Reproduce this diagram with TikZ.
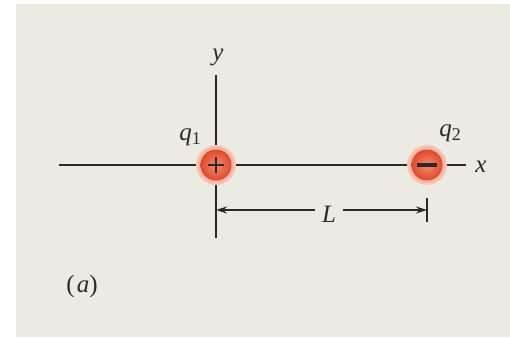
\documentclass[tikz,border=0pt]{standalone}
\usepackage{fontspec}
\setmainfont{Liberation Serif}
\usetikzlibrary{arrows.meta}
\definecolor{bg}{HTML}{ECEBE3}
\definecolor{halo}{HTML}{F4B4A0}
\definecolor{chin}{HTML}{F68A6C}
\definecolor{chout}{HTML}{DE4A2C}
\definecolor{ink}{HTML}{2A2A2A}
\tikzset{
  axis/.style={draw=ink, line width=1.4pt},
  lbl/.style={inner sep=0pt, font=\fontsize{25}{25}\selectfont\itshape, text=ink},
  dimline/.style={draw=ink, line width=1.2pt},
  charge/.style={circle, minimum size=31pt, inner sep=0pt, inner color=chin, outer color=chout},
}
\begin{document}
\begin{tikzpicture}[x=1pt,y=-1pt]
\useasboundingbox (0,0) rectangle (510,337);
\fill[white] (0,0) rectangle (510,337);
\fill[bg] (16,4) rectangle (510,337);
% axes
\coordinate (xl) at (59,165);
\coordinate (xr) at (466,165);
\coordinate (yt) at (216,75);
\coordinate (yb) at (216,238);
\draw[axis] (xl) -- (xr);
\draw[axis] (yt) -- (yb);
\node[lbl] (xlab) at (481,167) {x};
\node[lbl] (ylab) at (218,57) {y};
% charges
\fill[halo!60!bg] (216,165) circle (20);
\fill[halo] (216,165) circle (18);
\fill[halo!60!bg] (427,165) circle (20);
\fill[halo] (427,165) circle (18);
\node[charge] (q1) at (216,165) {};
\node[charge] (q2) at (427,165) {};
\draw[ink, line width=2.8pt] (208,165) -- (224,165) (216,157) -- (216,173);
\draw[ink, line width=4pt] (417,165) -- (437,165);
\node[lbl] (q1lab) at (190,137) {q\raisebox{-4pt}{\fontsize{18}{18}\selectfont\upshape 1}};
\node[lbl] (q2lab) at (450,133) {q\raisebox{-4pt}{\fontsize{18}{18}\selectfont\upshape 2}};
% dimension
\coordinate (tt) at (427,198);
\coordinate (tb) at (427,222);
\draw[dimline] (tt) -- (tb);
\coordinate (dl) at (216,210);
\coordinate (dr) at (427,210);
\node[lbl, fill=bg, inner xsep=7pt, inner ysep=2pt] (L) at (329,214) {L};
\draw[dimline, -{Stealth[length=11pt,width=7pt]}] (L.west |- dl) -- (dl);
\draw[dimline, -{Stealth[length=11pt,width=7pt]}] (L.east |- dr) -- (dr);
\node[lbl] (a) at (82,286) {\upshape(\hspace{2pt}\itshape a\upshape)};
\end{tikzpicture}
\end{document}
